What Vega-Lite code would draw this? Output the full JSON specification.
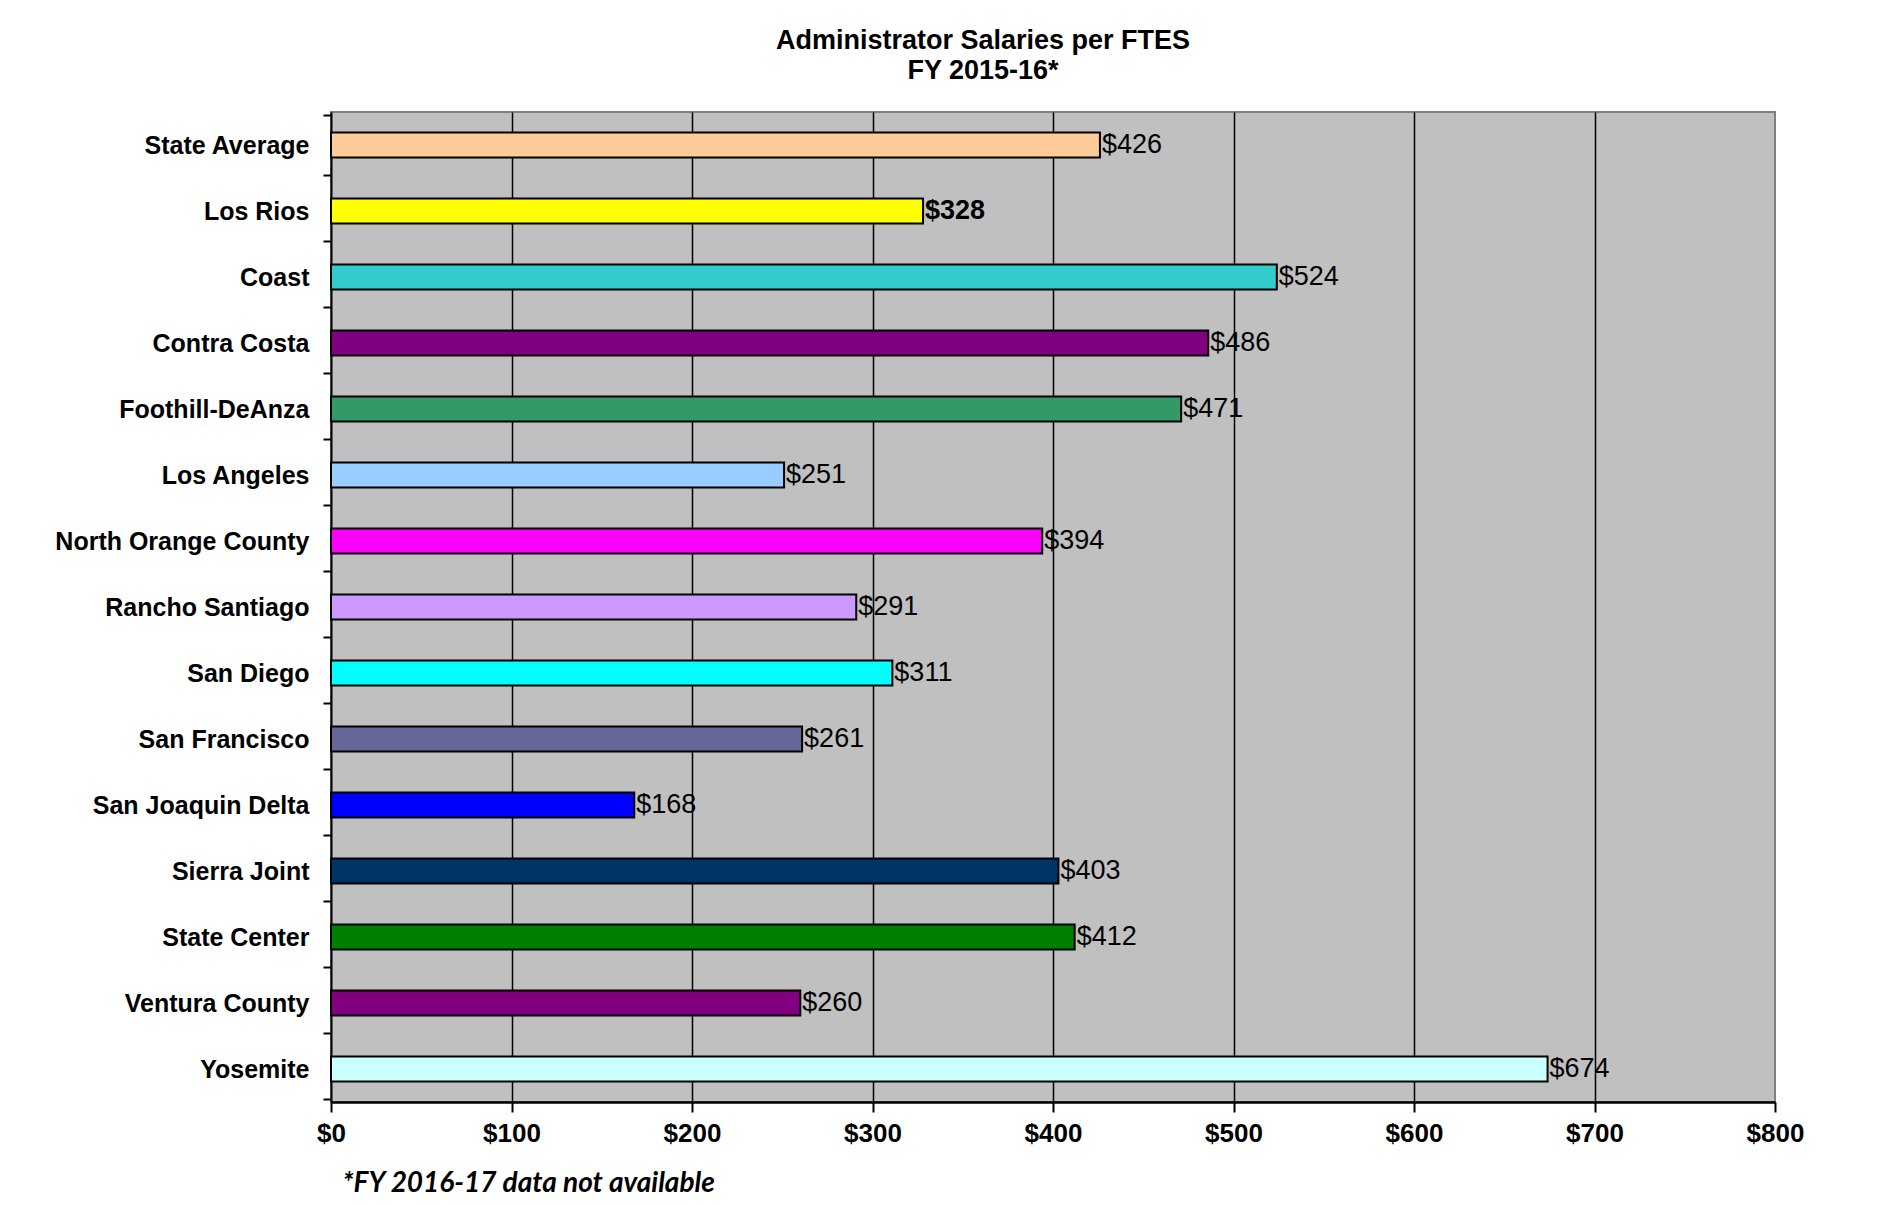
{
  "$schema": "https://vega.github.io/schema/vega-lite/v6.json",
  "autosize": "none",
  "width": 1444,
  "height": 990,
  "padding": {"left": 331, "top": 112, "right": 108, "bottom": 103},
  "background": "white",
  "title": {
    "text": ["Administrator Salaries per FTES", "FY 2015-16*"],
    "font": "Liberation Sans",
    "fontSize": 27,
    "fontWeight": "bold",
    "color": "black",
    "anchor": "middle",
    "dx": -70,
    "offset": 15,
    "lineHeight": 30
  },
  "data": {
    "values": [
      {"district": "State Average", "salary": 426},
      {"district": "Los Rios", "salary": 328},
      {"district": "Coast", "salary": 524},
      {"district": "Contra Costa", "salary": 486},
      {"district": "Foothill-DeAnza", "salary": 471},
      {"district": "Los Angeles", "salary": 251},
      {"district": "North Orange County", "salary": 394},
      {"district": "Rancho Santiago", "salary": 291},
      {"district": "San Diego", "salary": 311},
      {"district": "San Francisco", "salary": 261},
      {"district": "San Joaquin Delta", "salary": 168},
      {"district": "Sierra Joint", "salary": 403},
      {"district": "State Center", "salary": 412},
      {"district": "Ventura County", "salary": 260},
      {"district": "Yosemite", "salary": 674}
    ]
  },
  "encoding": {
    "y": {
      "field": "district",
      "type": "nominal",
      "sort": null,
      "axis": {
        "title": null,
        "tickBand": "extent",
        "tickSize": 8,
        "tickWidth": 2,
        "tickColor": "black",
        "domainColor": "black",
        "domainWidth": 2,
        "labelFont": "Liberation Sans",
        "labelFontSize": 25,
        "labelFontWeight": "bold",
        "labelColor": "black",
        "labelPadding": 14,
        "labelLimit": 0,
        "grid": false
      }
    },
    "x": {
      "field": "salary",
      "type": "quantitative",
      "scale": {"domain": [0, 800], "nice": false},
      "axis": {
        "values": [0, 100, 200, 300, 400, 500, 600, 700, 800],
        "format": "$d",
        "grid": true,
        "gridColor": {"condition": {"test": "datum.value === 800 || datum.value === 0", "value": "transparent"}, "value": "black"},
        "gridWidth": 1.5,
        "tickSize": 10,
        "tickWidth": 2,
        "tickColor": "black",
        "domainColor": "black",
        "domainWidth": 2.5,
        "labelFont": "Liberation Sans",
        "labelFontSize": 26,
        "labelFontWeight": "bold",
        "labelColor": "black",
        "labelPadding": 8,
        "labelFlush": false,
        "title": "*FY 2016-17 data not available",
        "titleAnchor": "start",
        "titleAlign": "left",
        "titleX": 11,
        "titleY": 81,
        "titleBaseline": "middle",
        "titleFont": "Lato",
        "titleFontStyle": "italic",
        "titleFontWeight": "bold",
        "titleFontSize": 28,
        "titleColor": "black"
      }
    }
  },
  "layer": [
    {
      "mark": {"type": "bar", "stroke": "black", "strokeWidth": 2, "size": 25},
      "encoding": {
        "color": {
          "field": "district",
          "type": "nominal",
          "legend": null,
          "scale": {
            "domain": ["State Average", "Los Rios", "Coast", "Contra Costa", "Foothill-DeAnza", "Los Angeles", "North Orange County", "Rancho Santiago", "San Diego", "San Francisco", "San Joaquin Delta", "Sierra Joint", "State Center", "Ventura County", "Yosemite"],
            "range": ["#FFCC99", "#FFFF00", "#33CCCC", "#800080", "#339966", "#99CCFF", "#FF00FF", "#CC99FF", "#00FFFF", "#666699", "#0000FF", "#003366", "#008000", "#800080", "#CCFFFF"]
          }
        }
      }
    },
    {
      "transform": [{"filter": "datum.district !== 'Los Rios'"}],
      "mark": {"type": "text", "align": "left", "baseline": "middle", "dx": 2, "font": "Liberation Sans", "fontSize": 27, "color": "black"},
      "encoding": {"text": {"field": "salary", "type": "quantitative", "format": "$d"}}
    },
    {
      "transform": [{"filter": "datum.district === 'Los Rios'"}],
      "mark": {"type": "text", "align": "left", "baseline": "middle", "dx": 2, "font": "Liberation Sans", "fontSize": 27, "fontWeight": "bold", "color": "black"},
      "encoding": {"text": {"field": "salary", "type": "quantitative", "format": "$d"}}
    }
  ],
  "config": {"view": {"fill": "#C0C0C0", "stroke": "#808080", "strokeWidth": 2}}
}
